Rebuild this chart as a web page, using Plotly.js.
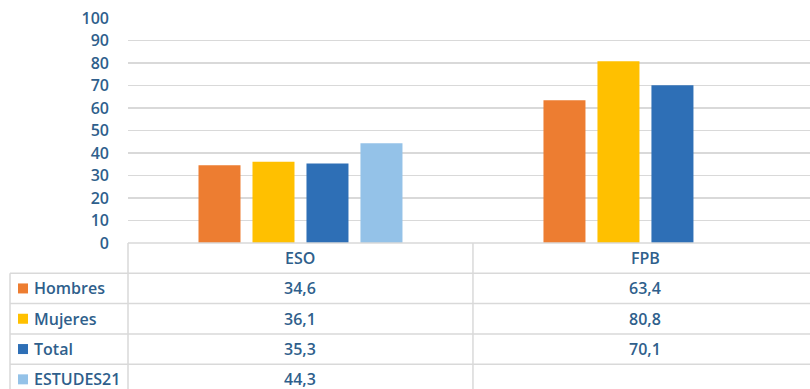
<!DOCTYPE html>
<html>
<head>
<meta charset="utf-8">
<script src="https://cdn.plot.ly/plotly-3.0.1.min.js"></script>
<style>html,body{margin:0;padding:0;background:#fff;}#chart{width:810px;height:389px;}</style>
</head>
<body>
<div id="chart"></div>
<script>
const categories = ['ESO', 'FPB'];
const seriesNames = ['Hombres', 'Mujeres', 'Total', 'ESTUDES21'];
const hombres = [34.6, 63.4];
const mujeres = [36.1, 80.8];
const total = [35.3, 70.1];
const estudes21 = [44.3, null];
const seriesValues = [hombres, mujeres, total, estudes21];
const seriesColors = ['#ED7D31', '#FFC000', '#2E6FB6', '#94C2E8'];
const yTicks = [0, 10, 20, 30, 40, 50, 60, 70, 80, 90, 100];

const W = 810, H = 389;
const margin = {l: 128, r: 0, t: 18, b: 146};
const plotW = W - margin.l - margin.r;
const plotH = H - margin.t - margin.b;
const xRange = [-0.5, 1.477];
const textColor = '#2f5f8c';
const lineColor = '#d9d9d9';
const font = {family: '"Open Sans", sans-serif', size: 16, color: textColor, weight: 600};

const rowPx = 30.3;
const rowH = rowPx / plotH;
const nRows = seriesNames.length + 1;
const tableLeft = (10 - margin.l) / plotW;
const xToPaper = v => (v - xRange[0]) / (xRange[1] - xRange[0]);

const fmt = v => (v === null || v === undefined) ? '' : v.toFixed(1).replace('.', ',');

const traces = seriesNames.map((name, i) => ({
  type: 'bar',
  name: name,
  x: categories,
  y: seriesValues[i],
  marker: {color: seriesColors[i]},
  hoverinfo: 'skip'
}));

const shapes = [];
const annotations = [];
const lineStyle = {color: lineColor, width: 1.5};

// top line (axis) of the table
shapes.push({type: 'line', xref: 'paper', yref: 'paper', x0: 0, x1: 1, y0: 0, y1: 0, line: lineStyle});
// row separators
for (let r = 1; r <= nRows; r++) {
  shapes.push({type: 'line', xref: 'paper', yref: 'paper', x0: tableLeft, x1: 1, y0: -r * rowH, y1: -r * rowH, line: lineStyle});
}
// verticals
shapes.push({type: 'line', xref: 'paper', yref: 'paper', x0: tableLeft, x1: tableLeft, y0: -rowH, y1: -nRows * rowH, line: lineStyle});
shapes.push({type: 'line', xref: 'paper', yref: 'paper', x0: 0, x1: 0, y0: 0, y1: -nRows * rowH, line: lineStyle});
for (let c = 0; c < categories.length - 1; c++) {
  const xp = xToPaper(c + 0.5);
  shapes.push({type: 'line', xref: 'paper', yref: 'paper', x0: xp, x1: xp, y0: 0, y1: -nRows * rowH, line: lineStyle});
}

// header: categories
categories.forEach(cat => {
  annotations.push({xref: 'x', yref: 'paper', x: cat, y: -0.5 * rowH, text: cat, showarrow: false,
    xanchor: 'center', yanchor: 'middle', font: font});
});

// rows
seriesNames.forEach((name, i) => {
  const yc = -(i + 1.5) * rowH;
  const sq = 5 / plotH;
  shapes.push({type: 'rect', xref: 'paper', yref: 'paper',
    x0: (18 - margin.l) / plotW, x1: (28 - margin.l) / plotW,
    y0: yc - sq, y1: yc + sq, fillcolor: seriesColors[i], line: {width: 0}});
  annotations.push({xref: 'paper', yref: 'paper', x: (32 - margin.l) / plotW, y: yc, text: name,
    showarrow: false, xanchor: 'left', yanchor: 'middle', font: font});
  categories.forEach((cat, j) => {
    const t = fmt(seriesValues[i][j]);
    if (t) annotations.push({xref: 'x', yref: 'paper', x: cat, y: yc, text: t, showarrow: false,
      xanchor: 'center', yanchor: 'middle', font: font});
  });
});

const layout = {
  width: W, height: H,
  margin: margin,
  paper_bgcolor: '#ffffff', plot_bgcolor: '#ffffff',
  barmode: 'group',
  bargap: 0.374,
  bargroupgap: 0.222,
  showlegend: false,
  xaxis: {type: 'category', range: xRange, showticklabels: false, showgrid: false,
    zeroline: false, showline: false, ticks: '', fixedrange: true},
  yaxis: {range: [0, 100], tickvals: yTicks, ticktext: yTicks.map(String), showgrid: true,
    gridcolor: lineColor, gridwidth: 1.5, zeroline: false, showline: false, ticks: '',
    ticklabelstandoff: 18, tickfont: font, fixedrange: true},
  shapes: shapes,
  annotations: annotations,
  font: font
};

Plotly.newPlot('chart', traces, layout, {displayModeBar: false, staticPlot: true});
</script>
</body>
</html>
